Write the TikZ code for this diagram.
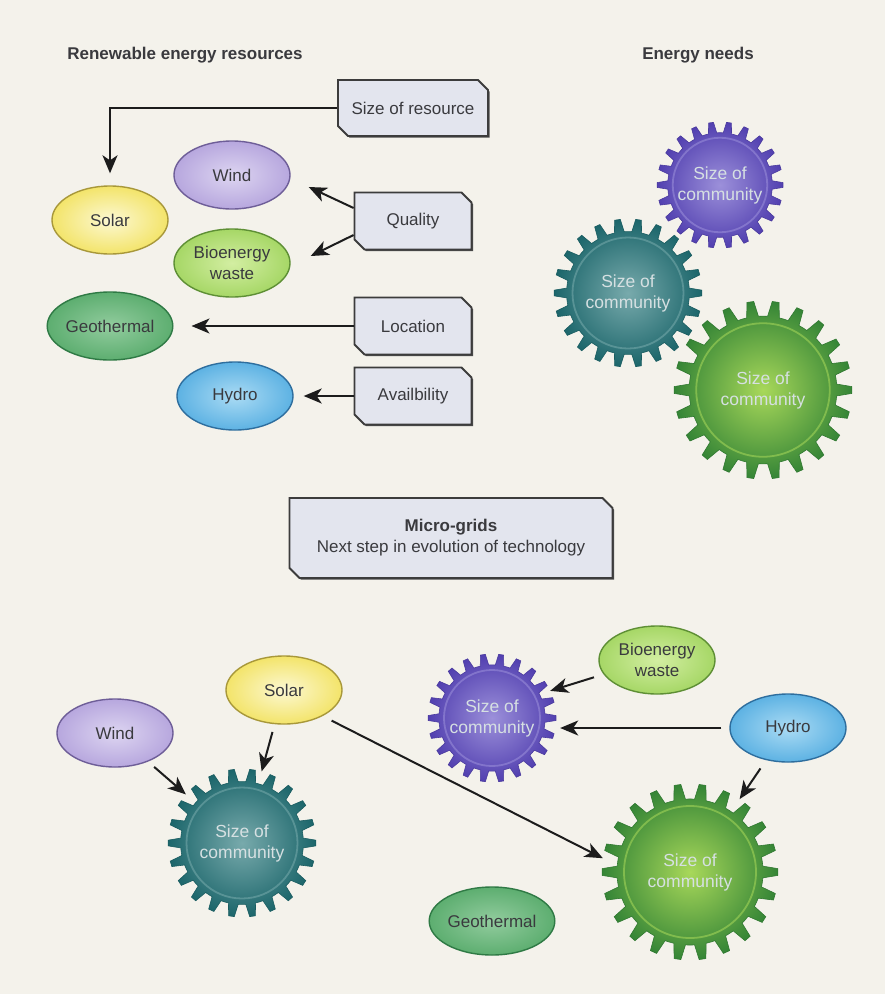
\documentclass[tikz,border=0pt]{standalone}
\usepackage{fontspec}
\setmainfont{Liberation Sans}
\usetikzlibrary{positioning,arrows.meta,calc,shapes.geometric,shapes.misc,shadows}
\definecolor{paper}{HTML}{F4F2EB}
\definecolor{txtgrey}{HTML}{3A3A3E}
\definecolor{arrowink}{HTML}{1C1C1C}
\definecolor{boxfill}{HTML}{E3E5EE}
\definecolor{boxline}{HTML}{3C3C3C}
\definecolor{cogtext}{HTML}{D6E0E2}
% ellipse colours: rim, glow, line
\definecolor{solarO}{HTML}{F3E46A}\definecolor{solarI}{HTML}{FCF8D2}\definecolor{solarL}{HTML}{A8983A}
\definecolor{windO}{HTML}{B7A7DE}\definecolor{windI}{HTML}{DDD5F1}\definecolor{windL}{HTML}{6E5E98}
\definecolor{bioO}{HTML}{A6D766}\definecolor{bioI}{HTML}{D3EEA2}\definecolor{bioL}{HTML}{5E8F35}
\definecolor{geoO}{HTML}{5DAE70}\definecolor{geoI}{HTML}{92CC9E}\definecolor{geoL}{HTML}{2F7A45}
\definecolor{hydroO}{HTML}{5DB2E3}\definecolor{hydroI}{HTML}{AADBF4}\definecolor{hydroL}{HTML}{2E6E9E}
% gear colours: body, glow
\definecolor{purpB}{HTML}{5240B0}\definecolor{purpG}{HTML}{9C90DA}
\definecolor{tealB}{HTML}{1C666B}\definecolor{tealG}{HTML}{78AAAC}
\definecolor{grnB}{HTML}{358536}\definecolor{grnG}{HTML}{A8D85A}
\tikzset{
  >={Stealth[length=18pt,width=15pt,inset=5pt]},
  x=1pt,y=-1pt,
  headtxt/.style={font=\bfseries\fontsize{17}{21}\selectfont,text=txtgrey},
  resbox/.style={chamfered rectangle,chamfered rectangle corners={north east,south west},
    chamfered rectangle xsep=5pt,chamfered rectangle ysep=5pt,
    fill=boxfill,draw=boxline,line width=1.8pt,inner sep=3pt,
    font=\fontsize{17}{21}\selectfont,text=txtgrey,align=center,
    drop shadow={shadow xshift=1.5pt,shadow yshift=-1.5pt,fill=black!70,opacity=1}},
  src/.style n args={3}{ellipse,minimum width=116pt,minimum height=68pt,inner sep=0pt,
    inner color=#2,outer color=#1,draw=#3,line width=1.4pt,
    font=\fontsize{17}{21}\selectfont,text=txtgrey,align=center},
  cogtxt/.style={circle,inner sep=0pt,align=center,text=cogtext,
    font=\fontsize{17.5}{21}\selectfont},
  link/.style={->,draw=arrowink,line width=2pt},
}
\newcommand{\cogwheel}[5]{% name, centre, tip radius, body, glow
  \begin{scope}[shift={#2}]
    \pgfmathsetmacro\rroot{#3*0.83}
    \shadedraw[inner color=#5,outer color=#4,draw=#4!90!black,line width=0.6pt]
      (-8.18:\rroot) \foreach \i [evaluate=\i as \t using \i*360/22] in {0,...,21}{
        -- (\t-8.18:\rroot) -- (\t-4.6:\rroot) -- (\t-2.2:#3) -- (\t+2.2:#3) -- (\t+4.6:\rroot)
      } -- cycle;
    \draw[#5,line width=1.8pt,opacity=0.55] (0,0) circle[radius=#3*0.75pt];
  \end{scope}
  \node[cogtxt,minimum size=#3*2pt] (#1) at #2 {Size of\\community};
}

\begin{document}
\begin{tikzpicture}
  \fill[paper] (0,0) rectangle (885,994);
  \useasboundingbox (0,0) rectangle (885,994);

  % headings
  \node[headtxt] (hres) at (185,55) {Renewable energy resources};
  \node[headtxt] (hneed) at (698,55) {Energy needs};

  % resources and their factors
  \node[src={solarO}{solarI}{solarL}] (solar) at (110,220) {Solar};
  \node[src={windO}{windI}{windL}] (wind) at (232,175) {Wind};
  \node[src={bioO}{bioI}{bioL}] (bio) at (232,263) {Bioenergy\\waste};
  \node[src={geoO}{geoI}{geoL}] (geo) at (110,326) {Geothermal};
  \node[src={hydroO}{hydroI}{hydroL}] (hydro) at (235,396) {Hydro};

  \node[resbox,minimum width=150pt,minimum height=56pt] (size) at (413,108) {Size of resource};
  \node[resbox,minimum width=117pt,minimum height=57pt] (qual) at (413,221) {Quality};
  \node[resbox,minimum width=117pt,minimum height=57pt] (loc) at (413,326) {Location};
  \node[resbox,minimum width=117pt,minimum height=57pt] (avail) at (413,396) {Availbility};

  \draw[link,shorten >=12pt] (size.west) -| (solar.north);
  \draw[link] ([yshift=13pt]qual.west) -- ([xshift=18pt,yshift=-12pt]wind.east);
  \draw[link] ([yshift=-14pt]qual.west) -- ([xshift=20pt,yshift=7pt]bio.east);
  \draw[link] (loc.west) -- ([xshift=18pt]geo.east);
  \draw[link] (avail.west) -- ([xshift=10pt]hydro.east);

  % energy needs
  \cogwheel{needP}{(720,185)}{63}{purpB}{purpG}
  \cogwheel{needT}{(628,293)}{74}{tealB}{tealG}
  \cogwheel{needG}{(763,390)}{89}{grnB}{grnG}

  % micro-grids
  \node[resbox,minimum width=323pt,minimum height=80pt] (micro) at (451,538)
    {{\bfseries Micro-grids}\\Next step in evolution of technology};

  \node[src={windO}{windI}{windL}] (wind2) at (115,733) {Wind};
  \node[src={solarO}{solarI}{solarL}] (solar2) at (284,690) {Solar};
  \node[src={bioO}{bioI}{bioL}] (bio2) at (657,660) {Bioenergy\\waste};
  \node[src={hydroO}{hydroI}{hydroL}] (hydro2) at (788,728) {Hydro};
  \node[src={geoO}{geoI}{geoL}] (geo2) at (492,921) {Geothermal};

  \cogwheel{gridT}{(242,843)}{74}{tealB}{tealG}
  \cogwheel{gridP}{(492,718)}{64}{purpB}{purpG}
  \cogwheel{gridG}{(690,872)}{88}{grnB}{grnG}

  \draw[link,shorten <=8pt] (wind2) -- (gridT);
  \draw[link,shorten <=8pt] (solar2) -- (gridT);
  \draw[link,shorten <=10pt] (solar2.-34) -- (gridG.171);
  \draw[link,shorten <=10pt] (bio2.195) -- (gridP.25);
  \draw[link,shorten <=8pt,shorten >=4pt] (hydro2.west) -- (hydro2.west -| gridP.east);
  \draw[link,shorten <=10pt] (hydro2) -- (gridG);
\end{tikzpicture}
\end{document}
